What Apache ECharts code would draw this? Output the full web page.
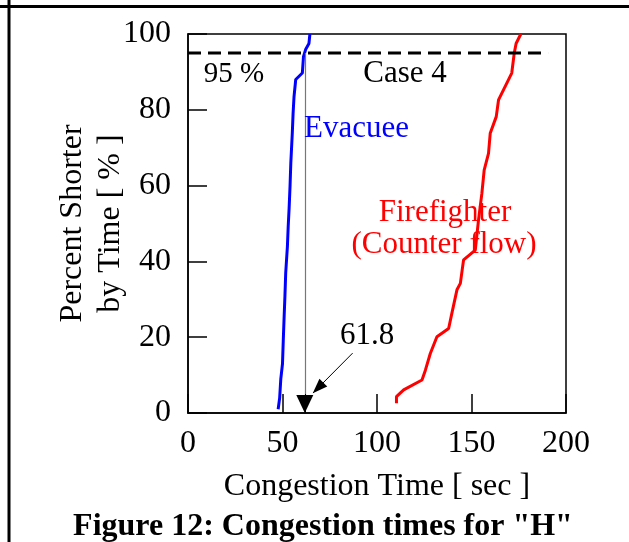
<!DOCTYPE html>
<html>
<head>
<meta charset="utf-8">
<script src="https://cdn.jsdelivr.net/npm/echarts@6/dist/echarts.min.js"></script>
<style>
  html, body { margin: 0; padding: 0; background: #fff; }
  #chart { width: 629px; height: 542px; }
</style>
</head>
<body>
<div id="chart"></div>
<script>
// evacuee curve (blue)
const evacueeTime = [47.7, 48.5, 49.1, 50.0, 50.4, 50.8, 51.3, 51.7, 52.6, 53.0, 53.5, 54.0, 54.4, 55.2, 55.6, 56.1, 57.0, 60.5, 61.1, 62.3, 64.0, 64.5]
const evacueePct = [1, 4, 9, 13, 19, 24.5, 31, 37, 44, 49, 54, 60, 66, 74, 79, 83.5, 88, 89.7, 94, 96, 97.5, 100]

// firefighter curve (red, counter flow)
const ffTime = [110.3, 110.3, 114.1, 123.8, 125.6, 128.2, 131.7, 137.9, 139.6, 142.3, 144.1, 145.8, 152.0, 153.7, 155.5, 156.7, 159.0, 159.9, 163.1, 164.3, 171.3, 172.6, 173.6, 176.1]
const ffPct = [2.6, 4.3, 6.1, 8.7, 11.3, 15.7, 20.1, 22.3, 26.3, 32.5, 34.2, 40.4, 43.0, 50.9, 58.0, 64.1, 68.5, 73.8, 78.2, 82.6, 89.7, 94.9, 97.5, 100]

// 95% reference line and the 61.8 s marker
const refLineX = [0, 190.5]
const refLineY = [95, 95]
const markTime = 61.8
const labelArrowFrom = [87.1, 15.8]
const labelArrowTo = [66.2, 5.3]

const serif = '"Liberation Serif", "Times New Roman", serif'
const font = size => size + 'px ' + serif

const zip = (xs, ys) => xs.map((x, i) => [x, ys[i]])

const chart = echarts.init(document.getElementById('chart'))

// free text labels placed on the plot
const note = (text, x, y, color, align, size) => ({
  type: 'text',
  x,
  y,
  z: 10,
  style: { text, font: font(size || 31), fill: color, textAlign: align || 'center', textVerticalAlign: 'middle' }
})

const option = {
  animation: false,
  title: {
    text: 'Figure 12: Congestion times for "H"',
    left: 318,
    top: 506,
    textAlign: 'center',
    textStyle: { fontFamily: serif, fontWeight: 'bold', fontSize: 32, color: '#000' }
  },
  grid: {
    left: 188,
    right: 63,
    top: 34,
    bottom: 129,
    show: true,
    borderColor: '#000',
    borderWidth: 1.5
  },
  xAxis: {
    type: 'value',
    min: 0,
    max: 200,
    interval: 50,
    name: 'Congestion Time [ sec ]',
    nameLocation: 'middle',
    nameGap: 58,
    nameMoveOverlap: false,
    nameTextStyle: { fontFamily: serif, fontSize: 32, color: '#000' },
    axisLine: { lineStyle: { color: '#000', width: 1.5 } },
    axisTick: { inside: true, length: 19, lineStyle: { color: '#000', width: 1.5 } },
    axisLabel: { fontFamily: serif, fontSize: 32, color: '#000', margin: 15 },
    splitLine: { show: false }
  },
  yAxis: {
    type: 'value',
    min: 0,
    max: 100,
    interval: 20,
    name: 'Percent Shorter\nby Time [ % ]',
    nameLocation: 'middle',
    nameGap: 58,
    nameMoveOverlap: false,
    nameTextStyle: { fontFamily: serif, fontSize: 32, color: '#000', lineHeight: 38 },
    axisLine: { lineStyle: { color: '#000', width: 1.5 } },
    axisTick: { inside: true, length: 19, lineStyle: { color: '#000', width: 1.5 } },
    axisLabel: { fontFamily: serif, fontSize: 32, color: '#000', margin: 17 },
    splitLine: { show: false }
  },
  graphic: [
    { type: 'line', shape: { x1: 9, y1: 0, x2: 9, y2: 542 }, style: { stroke: '#000', lineWidth: 3 } },
    { type: 'line', shape: { x1: 0, y1: 6.5, x2: 629, y2: 6.5 }, style: { stroke: '#000', lineWidth: 3 } },
    note('95 %', 234, 74, '#000', 'center', 29),
    note('Case 4', 405, 74, '#000'),
    note('Evacuee', 304, 129, '#0000ff', 'left'),
    note('Firefighter', 445, 213, '#ff0000'),
    note('(Counter flow)', 444, 245, '#ff0000'),
    note('61.8', 367, 336, '#000')
  ],
  series: [
    {
      name: 'Evacuee',
      type: 'line',
      data: zip(evacueeTime, evacueePct),
      showSymbol: false,
      lineStyle: { color: '#0000ff', width: 3 },
      z: 3
    },
    {
      name: 'Firefighter',
      type: 'line',
      data: zip(ffTime, ffPct),
      showSymbol: false,
      lineStyle: { color: '#ff0000', width: 3 },
      z: 3
    },
    {
      name: '95%',
      type: 'line',
      data: zip(refLineX, refLineY),
      showSymbol: false,
      lineStyle: { color: '#000', width: 3, type: [13, 7] },
      z: 4,
      markLine: {
        silent: true,
        label: { show: false },
        data: [
          [
            { coord: [markTime, 95], symbol: 'none', lineStyle: { color: '#777', width: 1.2 } },
            { coord: [markTime, 4], symbol: 'none' }
          ],
          [
            { coord: [markTime, 5], symbol: 'none', lineStyle: { color: '#000', width: 1 } },
            { coord: [markTime, 0], symbol: 'triangle', symbolSize: [17, 18], symbolOffset: [0, 9] }
          ],
          [
            { coord: labelArrowFrom, symbol: 'none', lineStyle: { color: '#000', width: 1 } },
            { coord: labelArrowTo, symbol: 'triangle', symbolSize: [11, 15], symbolOffset: [0, 7] }
          ]
        ],
        lineStyle: { type: 'solid' }
      }
    }
  ]
}

chart.setOption(option)
</script>
</body>
</html>
